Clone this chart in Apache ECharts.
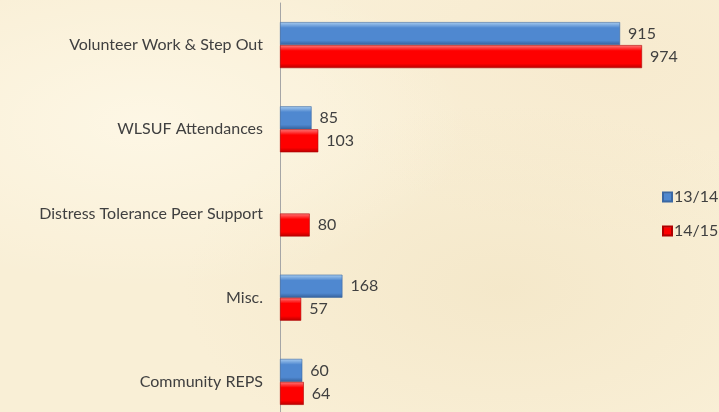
<!DOCTYPE html>
<html>
<head>
<meta charset="utf-8">
<script src="https://cdn.jsdelivr.net/npm/echarts@6/dist/echarts.min.js"></script>
<style>
  html, body { margin: 0; padding: 0; }
  body {
    width: 719px; height: 412px; overflow: hidden;
    background: #f9efd6;
    background-image:
      radial-gradient(ellipse at 20% 30%, rgba(255,250,235,0.7), rgba(255,250,235,0) 40%),
      radial-gradient(ellipse at 70% 70%, rgba(240,225,190,0.5), rgba(240,225,190,0) 45%),
      radial-gradient(ellipse at 85% 15%, rgba(245,230,200,0.5), rgba(245,230,200,0) 35%);
  }
  #chart { width: 719px; height: 412px; }
</style>
</head>
<body>
<div id="chart"></div>
<script>
const categories = ['Volunteer Work & Step Out', 'WLSUF Attendances', 'Distress Tolerance Peer Support', 'Misc.', 'Community REPS'];
const series1314 = [915, 85, '-', 168, 60];
const series1415 = [974, 103, 80, 57, 64];
const seriesNames = ['13/14', '14/15'];

const textColor = '#404040';
const fontFamily = 'Lato, "Open Sans", sans-serif';

function bevel(top, mid, bottom) {
    return new echarts.graphic.LinearGradient(0, 0, 0, 1, [
        { offset: 0, color: top },
        { offset: 0.25, color: mid },
        { offset: 0.8, color: mid },
        { offset: 1, color: bottom }
    ]);
}

const chart = echarts.init(document.getElementById('chart'));
const labelOpt = {
    show: true,
    position: 'right',
    distance: 8,
    color: textColor,
    fontSize: 16,
    fontFamily: fontFamily
};

chart.setOption({
    animation: false,
    backgroundColor: 'transparent',
    grid: { left: 280, top: 3, width: 446, height: 421, containLabel: false, outerBoundsMode: 'none' },
    legend: {
        orient: 'vertical',
        left: 657,
        top: 184,
        itemWidth: 9,
        itemHeight: 9,
        itemGap: 18,
        icon: 'rect',
        textStyle: { color: textColor, fontSize: 16, fontFamily: fontFamily, padding: [0, 0, 0, -3] },
        data: seriesNames
    },
    xAxis: {
        type: 'value',
        min: 0,
        max: 1200,
        show: false
    },
    yAxis: {
        type: 'category',
        data: categories,
        inverse: true,
        axisLine: { lineStyle: { color: '#a6a6a6', width: 1 } },
        axisTick: { show: false },
        axisLabel: { color: textColor, fontSize: 16, fontFamily: fontFamily, margin: 17 }
    },
    series: [
        {
            name: seriesNames[0],
            type: 'bar',
            data: series1314,
            barWidth: 23,
            barGap: '0%',
            itemStyle: {
                color: bevel('#a9cdf0', '#4f88d0', '#35609a'),
                borderColor: '#3b68a3',
                borderWidth: 0.6
            },
            label: labelOpt
        },
        {
            name: seriesNames[1],
            type: 'bar',
            data: series1415,
            barWidth: 23,
            barGap: '0%',
            itemStyle: {
                color: bevel('#ff7a7a', '#fe0000', '#b80000'),
                borderColor: '#b00000',
                borderWidth: 0.6
            },
            label: labelOpt
        }
    ]
});
</script>
</body>
</html>
